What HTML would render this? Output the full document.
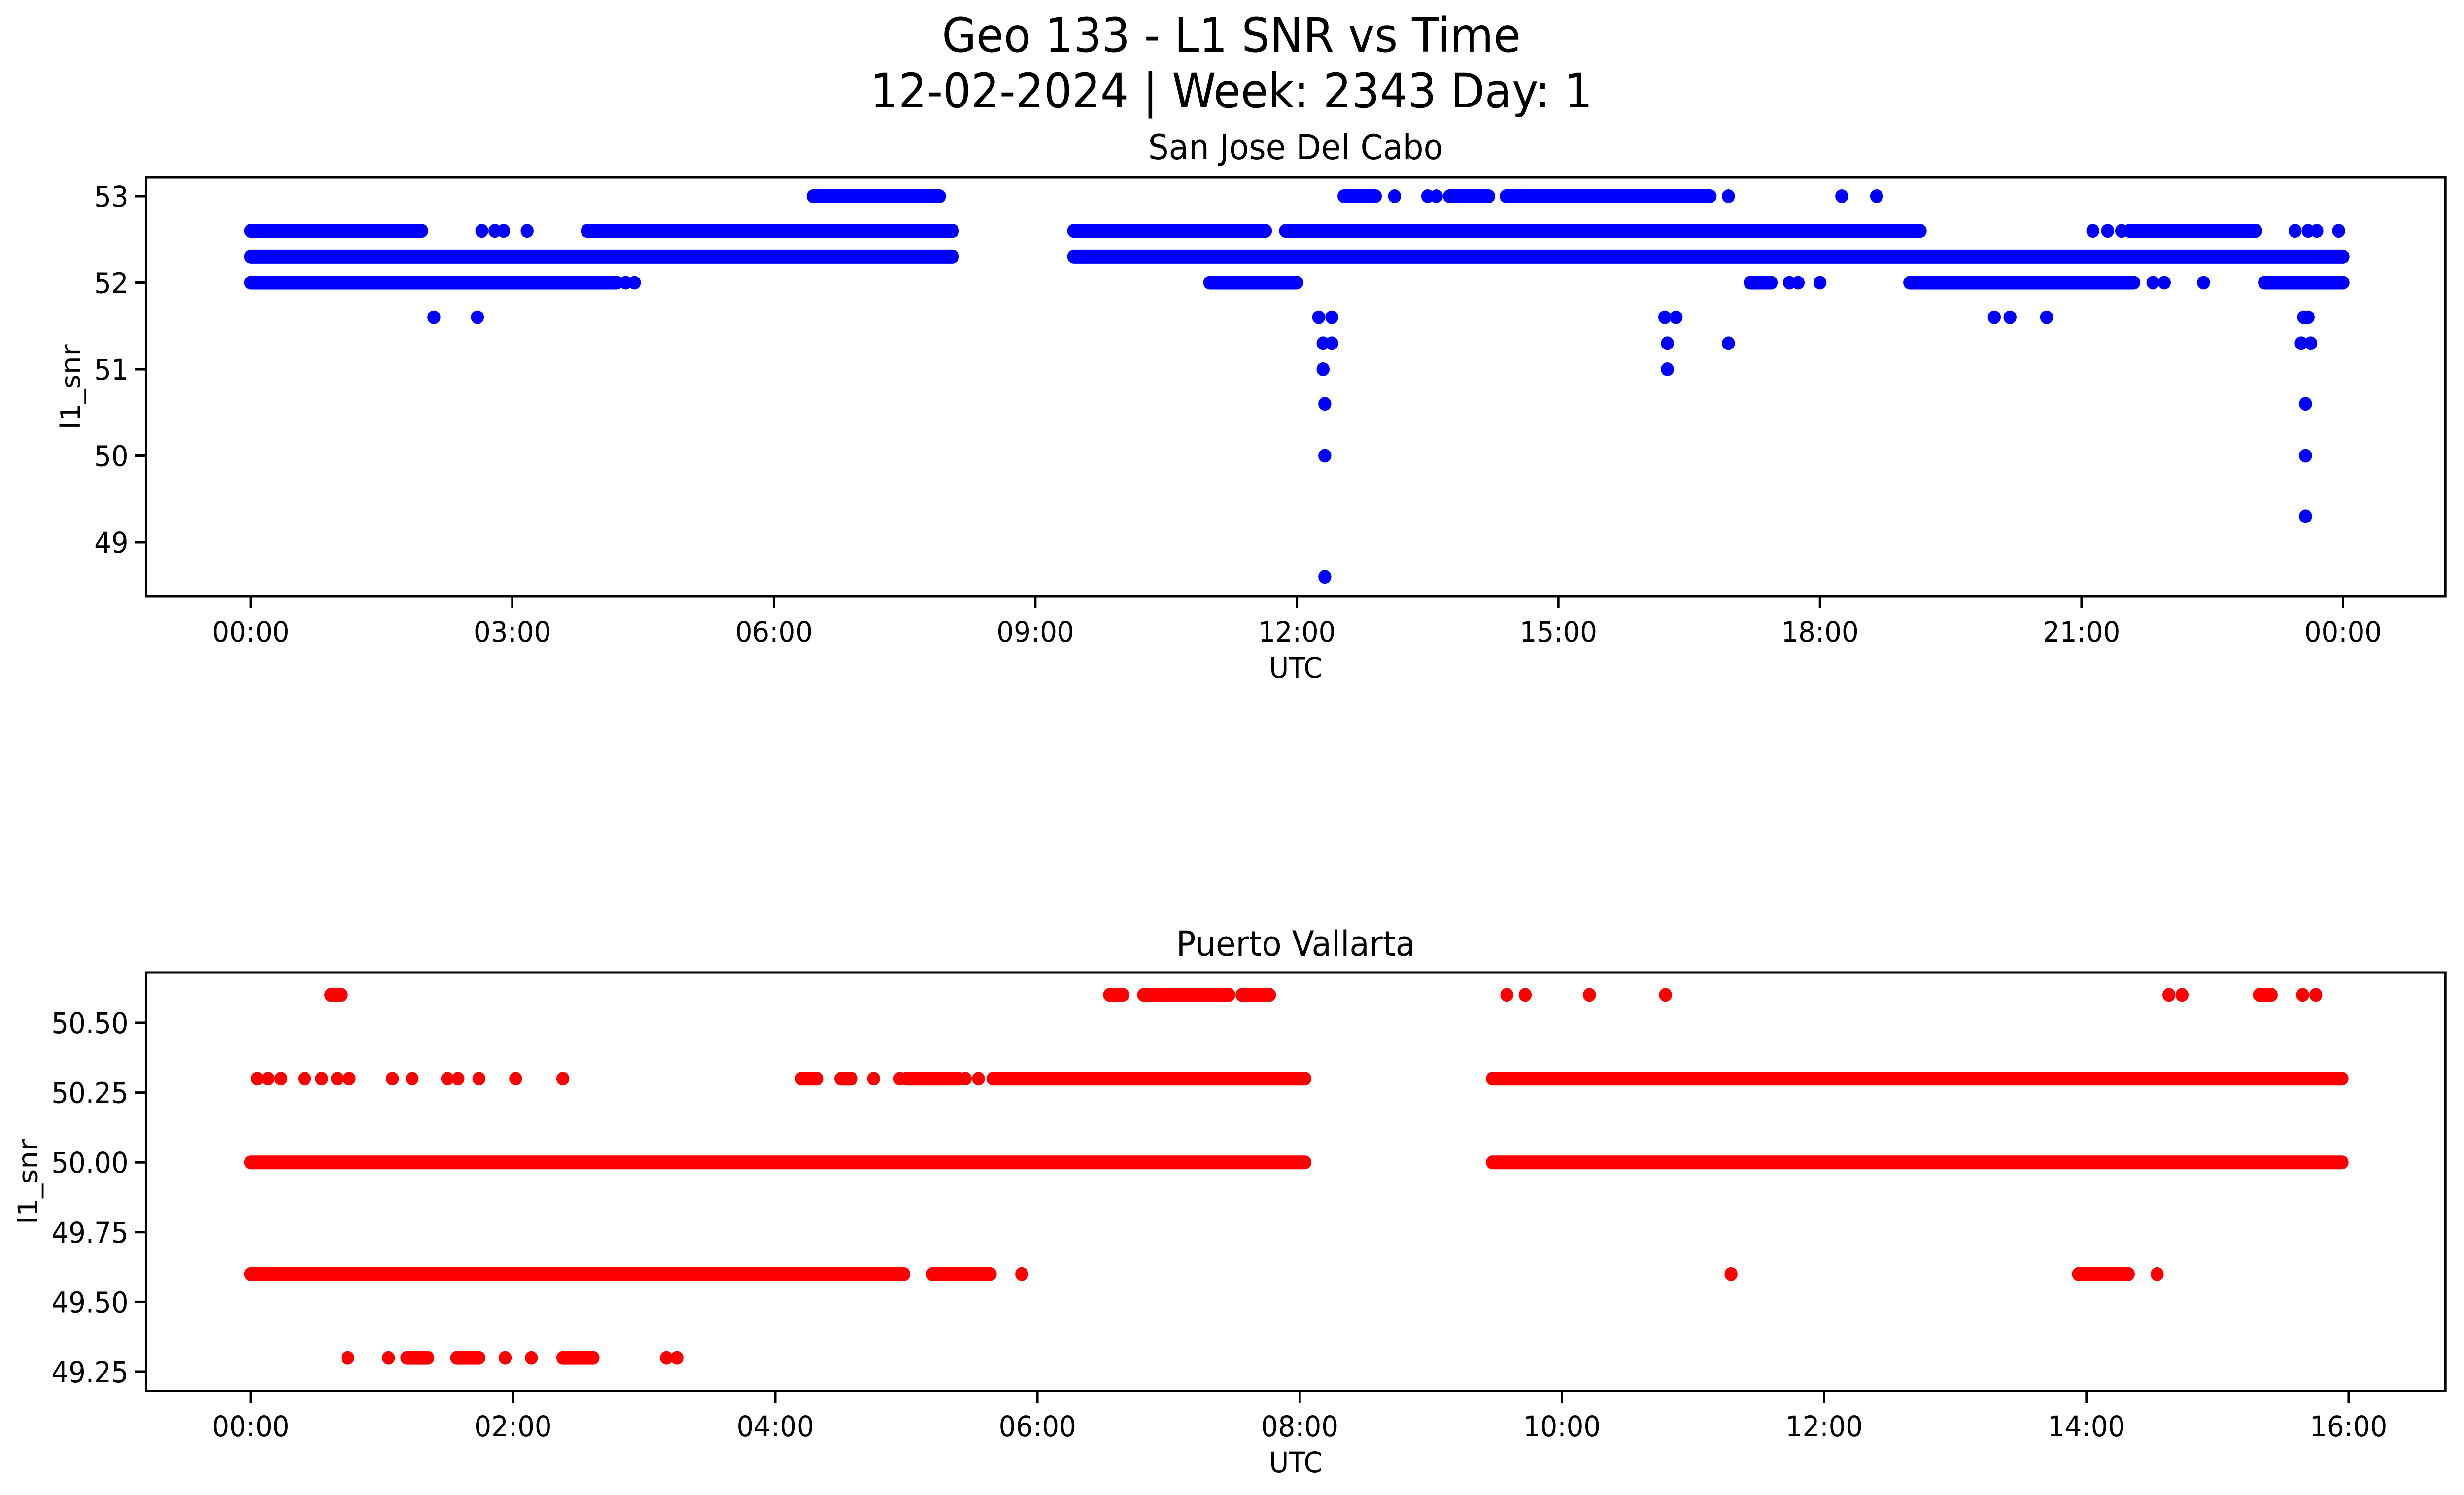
<!DOCTYPE html>
<html><head><meta charset="utf-8"><style>
html,body{margin:0;padding:0;background:#fff;width:100%;height:100%;overflow:hidden;}
svg{display:block;width:100vw;height:100vh;font-family:"DejaVu Sans","Liberation Sans",sans-serif;}
</style></head><body>
<svg id="fig" viewBox="0 0 5315 3033" preserveAspectRatio="none" xmlns="http://www.w3.org/2000/svg">
<rect width="5315" height="3033" fill="#fff"/>
<text x="2656" y="105" font-size="96" text-anchor="middle">Geo 133 - L1 SNR vs Time</text>
<text x="2656" y="218" font-size="96" text-anchor="middle">12-02-2024 | Week: 2343 Day: 1</text>
<g id="p1"></g>
<g id="p2"></g>
</svg>
<script>
// ---- Top chart data (hours UTC, l1_snr) ----
const topTicks = [0,3,6,9,12,15,18,21,24];
const topTickLabels = ["00:00","03:00","06:00","09:00","12:00","15:00","18:00","21:00","00:00"];
const topYTicks = [49,50,51,52,53];
const topRunLevels = [52.3,52.3,52.6,52.6,52.6,52.6,52.6,52.0,52.0,52.0,52.0,52.0,53,53,53,53];
const topRunStart  = [0,9.44,0,3.86,9.44,11.87,21.55,0,11.0,19.03,23.1,17.2,6.45,12.54,13.77,14.4];
const topRunEnd    = [8.05,24,1.96,8.05,11.64,19.15,23.0,4.2,12.0,21.6,24,17.44,7.9,12.9,14.2,16.74];
const topPtTimes  = [2.65,2.8,2.9,3.17,21.13,21.3,21.46,23.45,23.6,23.7,23.95,4.3,4.4,17.65,17.75,18.0,21.82,21.95,22.4,13.12,13.5,13.6,13.75,16.95,18.25,18.65,2.1,2.6,12.25,12.4,16.22,16.35,20.0,20.18,20.6,23.55,23.6,12.3,12.4,16.25,16.95,23.52,23.63,12.3,16.25,12.32,23.57,12.32,23.57,23.57,12.32];
const topPtValues = [52.6,52.6,52.6,52.6,52.6,52.6,52.6,52.6,52.6,52.6,52.6,52.0,52.0,52.0,52.0,52.0,52.0,52.0,52.0,53,53,53,53,53,53,53,51.6,51.6,51.6,51.6,51.6,51.6,51.6,51.6,51.6,51.6,51.6,51.3,51.3,51.3,51.3,51.3,51.3,51.0,51.0,50.6,50.6,50.0,50.0,49.3,48.6];

// ---- Bottom chart data ----
const botTicks = [0,2,4,6,8,10,12,14,16];
const botTickLabels = ["00:00","02:00","04:00","06:00","08:00","10:00","12:00","14:00","16:00"];
const botYTicks = [49.25,49.5,49.75,50.0,50.25,50.5];
const botYTickLabels = ["49.25","49.50","49.75","50.00","50.25","50.50"];
const botRunLevels = [50.0,50.0,49.6,49.6,50.3,50.3,50.3,50.3,50.3,50.6,50.6,50.6,50.6,50.6,49.6,49.3,49.3,49.3];
const botRunStart  = [0,9.47,0,5.2,5.66,9.47,4.2,4.5,5.0,0.61,6.55,6.81,7.56,15.32,13.94,1.19,1.57,2.38];
const botRunEnd    = [8.04,15.95,4.98,5.64,8.04,15.95,4.32,4.58,5.4,0.69,6.65,7.46,7.77,15.41,14.32,1.35,1.74,2.61];
const botPtTimes  = [5.88,11.29,14.54,0.05,0.13,0.23,0.41,0.54,0.66,0.75,1.08,1.23,1.5,1.58,1.74,2.02,2.38,4.75,4.95,5.45,5.55,9.58,9.72,10.21,10.79,14.63,14.73,15.65,15.75,0.74,1.05,1.94,2.14,3.17,3.25];
const botPtValues = [49.6,49.6,49.6,50.3,50.3,50.3,50.3,50.3,50.3,50.3,50.3,50.3,50.3,50.3,50.3,50.3,50.3,50.3,50.3,50.3,50.3,50.6,50.6,50.6,50.6,50.6,50.6,50.6,50.6,49.3,49.3,49.3,49.3,49.3,49.3];

const NS = "http://www.w3.org/2000/svg";
function el(parent, tag, attrs, text){
  const e = document.createElementNS(NS, tag);
  for (const k in attrs) e.setAttribute(k, attrs[k]);
  if (text !== undefined) e.textContent = text;
  parent.appendChild(e);
  return e;
}
const R = 14;

function drawPanel(g, cfg){
  const xs = h => cfg.x0 + (h - cfg.h0) * (cfg.x1 - cfg.x0) / (cfg.h1 - cfg.h0);
  const ys = v => cfg.y0 + (v - cfg.v0) * (cfg.y1 - cfg.y0) / (cfg.v1 - cfg.v0);
  const t = el(g, 'text', {x:(cfg.L+cfg.Rt)/2, y:cfg.titleY, 'font-size':70, 'text-anchor':'middle'}, cfg.title);
  
  
  for (let i = 0; i < cfg.runLevels.length; i++){
    const ln = el(g, 'line', {x1:xs(cfg.runStart[i]), x2:xs(cfg.runEnd[i]), y1:ys(cfg.runLevels[i]), y2:ys(cfg.runLevels[i]), stroke:cfg.color, 'stroke-width':2*R, 'stroke-linecap':'round'});
    
    
  }
  for (let i = 0; i < cfg.ptTimes.length; i++){
    const c = el(g, 'circle', {cx:xs(cfg.ptTimes[i]), cy:ys(cfg.ptValues[i]), r:R, fill:cfg.color});
    
    
  }
  const fr = el(g, 'rect', {x:cfg.L, y:cfg.T, width:cfg.Rt-cfg.L, height:cfg.B-cfg.T, fill:'none', stroke:'#000', 'stroke-width':5});
  
  
  for (let i = 0; i < cfg.xTicks.length; i++){
    const x = xs(cfg.xTicks[i]);
    const tk = el(g, 'line', {x1:x, x2:x, y1:cfg.B, y2:cfg.B+24, stroke:'#000', 'stroke-width':5});
    
    
    const lb = el(g, 'text', {x:x, y:cfg.B+92, 'font-size':58, 'text-anchor':'middle'}, cfg.xLabels[i]);
    
    
  }
  for (let i = 0; i < cfg.yTicks.length; i++){
    const y = ys(cfg.yTicks[i]);
    const tk = el(g, 'line', {x1:cfg.L-24, x2:cfg.L, y1:y, y2:y, stroke:'#000', 'stroke-width':5});
    
    
    const lb = el(g, 'text', {x:cfg.L-38, y:y+21, 'font-size':58, 'text-anchor':'end'}, cfg.yLabels[i]);
    
    
  }
  const xl = el(g, 'text', {x:(cfg.L+cfg.Rt)/2, y:cfg.B+165, 'font-size':58, 'text-anchor':'middle'}, 'UTC');
  
  
  const yl = el(g, 'text', {x:0, y:0, 'font-size':58, 'text-anchor':'middle', transform:`translate(${cfg.yLabX},${(cfg.T+cfg.B)/2}) rotate(-90)`}, 'l1_snr');
  
  
}

drawPanel(document.getElementById('p1'), {
  L:315, Rt:5275, T:360, B:1210, titleY:323, title:'San Jose Del Cabo',
  x0:541, x1:5054, h0:0, h1:24, y0:398, y1:1100, v0:53, v1:49,
  color:'#0000ff', runLevels:topRunLevels, runStart:topRunStart, runEnd:topRunEnd,
  ptTimes:topPtTimes, ptValues:topPtValues,
  xTicks:topTicks, xLabels:topTickLabels, yTicks:topYTicks, yLabels:topYTicks.map(String), yLabX:172
});
drawPanel(document.getElementById('p2'), {
  L:315, Rt:5275, T:1973, B:2822, titleY:1939, title:'Puerto Vallarta',
  x0:541, x1:5066, h0:0, h1:16, y0:2075, y1:2783, v0:50.5, v1:49.25,
  color:'#ff0000', runLevels:botRunLevels, runStart:botRunStart, runEnd:botRunEnd,
  ptTimes:botPtTimes, ptValues:botPtValues,
  xTicks:botTicks, xLabels:botTickLabels, yTicks:botYTicks, yLabels:botYTickLabels, yLabX:80
});
</script>
</body></html>
